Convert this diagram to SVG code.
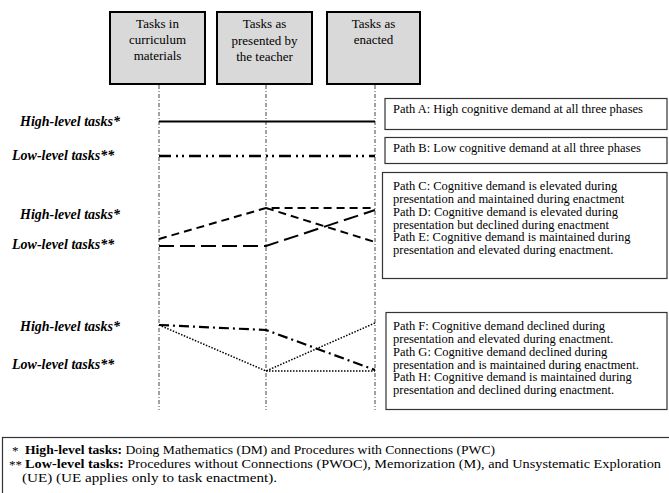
<svg xmlns="http://www.w3.org/2000/svg" width="669" height="493" viewBox="0 0 669 493">
<style>
.hdr{fill:#d9d9d9;stroke:#000;stroke-width:2}
.ht{font-family:"Liberation Serif",serif;font-size:13px;fill:#000;text-anchor:middle}
.lbl{font-family:"Liberation Serif",serif;font-size:14px;font-weight:bold;font-style:italic;fill:#000}
.box{fill:#fff;stroke:#333;stroke-width:1.2}
.bt{font-family:"Liberation Serif",serif;font-size:12.5px;fill:#000}
.ft{font-family:"Liberation Serif",serif;font-size:13px;fill:#000}
.vl{stroke:#444;stroke-width:1;stroke-dasharray:4 2 1 2;fill:none}
.p{fill:none;stroke:#000}
</style>
<rect width="669" height="493" fill="#fff"/>
<g id="phase1"><rect class="hdr" x="110" y="12" width="95" height="72"/><text class="ht" x="157.5" y="28">Tasks in</text><text class="ht" x="157.5" y="44">curriculum</text><text class="ht" x="157.5" y="60">materials</text></g>
<g id="phase2"><rect class="hdr" x="217" y="12" width="95" height="72"/><text class="ht" x="264.5" y="28">Tasks as</text><text class="ht" x="264.5" y="45">presented by</text><text class="ht" x="264.5" y="61">the teacher</text></g>
<g id="phase3"><rect class="hdr" x="327" y="12" width="93" height="72"/><text class="ht" x="373.5" y="28">Tasks as</text><text class="ht" x="373.5" y="44">enacted</text></g>
<g id="guides"><line class="vl" x1="159" y1="85" x2="159" y2="410"/><line class="vl" x1="266" y1="85" x2="266" y2="410"/><line class="vl" x1="375" y1="85" x2="375" y2="410"/></g>
<g id="labels">
<text class="lbl" x="20" y="126">High-level tasks*</text>
<text class="lbl" x="12" y="160">Low-level tasks**</text>
<text class="lbl" x="20" y="219">High-level tasks*</text>
<text class="lbl" x="12" y="249">Low-level tasks**</text>
<text class="lbl" x="20" y="331">High-level tasks*</text>
<text class="lbl" x="12" y="369">Low-level tasks**</text>
</g>
<g id="connectors">
<line class="p" x1="159" y1="121.5" x2="375" y2="121.5" stroke-width="2"/>
<line class="p" x1="159" y1="156" x2="375" y2="156" stroke-width="2.5" stroke-dasharray="12 5 2 4 2 5"/>
<polyline class="p" points="159,239 266,208 375,208" stroke-width="2" stroke-dasharray="8 5"/>
<line class="p" x1="266" y1="208" x2="375" y2="242" stroke-width="2" stroke-dasharray="8 5"/>
<polyline class="p" points="159,246 266,246 375,210" stroke-width="2" stroke-dasharray="15 6"/>
<polyline class="p" points="159,325 266,371 375,323" stroke-width="1.5" stroke-dasharray="1.5 1.5"/>
<line class="p" x1="266" y1="371" x2="375" y2="371" stroke-width="1.5" stroke-dasharray="1.5 1.5"/>
<polyline class="p" points="159,325 266,330 375,370" stroke-width="2.2" stroke-dasharray="10 4 2 4"/>
</g>
<g id="pathA"><rect class="box" x="385" y="98.5" width="282" height="31"/><text class="bt" x="393" y="113">Path A: High cognitive demand at all three phases</text></g>
<g id="pathB"><rect class="box" x="385" y="137.5" width="282" height="26"/><text class="bt" x="393" y="152">Path B: Low cognitive demand at all three phases</text></g>
<g id="pathCDE"><rect class="box" x="382.5" y="172.5" width="284.5" height="106"/>
<text class="bt" x="393" y="190">Path C: Cognitive demand is elevated during</text>
<text class="bt" x="393" y="203">presentation and maintained during enactment</text>
<text class="bt" x="393" y="215.5">Path D: Cognitive demand is elevated during</text>
<text class="bt" x="393" y="228.5">presentation but declined during enactment</text>
<text class="bt" x="393" y="241">Path E: Cognitive demand is maintained during</text>
<text class="bt" x="393" y="254">presentation and elevated during enactment.</text></g>
<g id="pathFGH"><rect class="box" x="386" y="312.5" width="281" height="97"/>
<text class="bt" x="393" y="330">Path F: Cognitive demand declined during</text>
<text class="bt" x="393" y="343">presentation and elevated during enactment.</text>
<text class="bt" x="393" y="355.5">Path G: Cognitive demand declined during</text>
<text class="bt" x="393" y="368.5">presentation and is maintained during enactment.</text>
<text class="bt" x="393" y="381">Path H: Cognitive demand is maintained during</text>
<text class="bt" x="393" y="394">presentation and declined during enactment.</text></g>
<g id="legend"><rect class="box" x="2.5" y="437.5" width="670" height="60"/>
<text class="ft" x="12" y="455">*</text>
<text class="ft" x="25" y="454" textLength="470" lengthAdjust="spacingAndGlyphs"><tspan font-weight="bold">High-level tasks:</tspan> Doing Mathematics (DM) and Procedures with Connections (PWC)</text>
<text class="ft" x="9" y="469">**</text>
<text class="ft" x="25" y="468" textLength="636" lengthAdjust="spacingAndGlyphs"><tspan font-weight="bold">Low-level tasks:</tspan> Procedures without Connections (PWOC), Memorization (M), and Unsystematic Exploration</text>
<text class="ft" x="22" y="482" textLength="255" lengthAdjust="spacingAndGlyphs">(UE) (UE applies only to task enactment).</text></g>
</svg>
